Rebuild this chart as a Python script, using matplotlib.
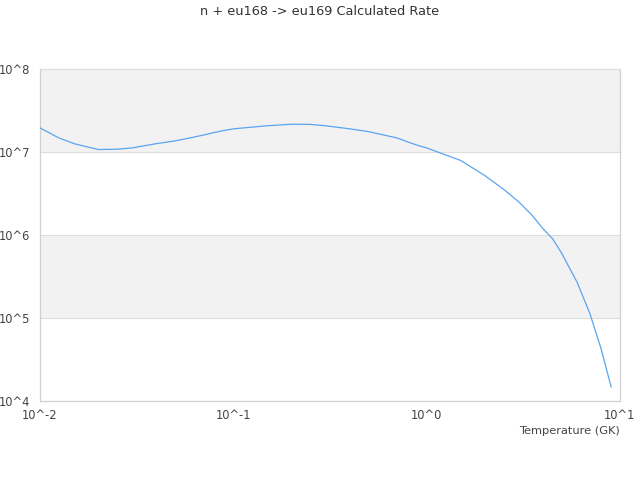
import numpy as np
import matplotlib.pyplot as plt

# Reaction rate for n + eu168 -> eu169
temperature = [0.01, 0.0125, 0.015, 0.02, 0.025, 0.03, 0.04, 0.05, 0.06, 0.07, 0.08, 0.09,
               0.1, 0.15, 0.2, 0.25, 0.3, 0.4, 0.5, 0.6, 0.7, 0.8, 0.9,
               1.0, 1.5, 2.0, 2.5, 3.0, 3.5, 4.0, 4.5, 5.0, 6.0, 7.0, 8.0, 9.0]
rate = [1.95e7, 1.48e7, 1.26e7, 1.07e7, 1.08e7, 1.12e7, 1.26e7, 1.36e7, 1.48e7, 1.6e7, 1.72e7, 1.82e7,
        1.9e7, 2.07e7, 2.16e7, 2.15e7, 2.07e7, 1.9e7, 1.76e7, 1.6e7, 1.48e7, 1.32e7, 1.2e7,
        1.12e7, 7.9e6, 5.2e6, 3.55e6, 2.5e6, 1.74e6, 1.19e6, 8.9e5, 6.0e5, 2.7e5, 1.12e5,
        4.2e4, 1.48e4]

x_ticks = [0.01, 0.1, 1, 10]
x_labels = ['10^-2', '10^-1', '10^0', '10^1']
y_ticks = [1e4, 1e5, 1e6, 1e7, 1e8]
y_labels = ['10^4', '10^5', '10^6', '10^7', '10^8']

fig = plt.figure(figsize=(6.4, 4.8), dpi=100)
ax = fig.add_axes([0.0625, 0.1646, 0.9062, 0.6917])
ax.set_xscale('log')
ax.set_yscale('log')
ax.set_xlim(0.01, 10)
ax.set_ylim(1e4, 1e8)

# alternating bands
for i in range(len(y_ticks) - 1):
    if i % 2 == 1:
        ax.axhspan(y_ticks[i], y_ticks[i + 1], color='#f2f2f2', zorder=0, lw=0)
for y in y_ticks[1:-1]:
    ax.axhline(y, color='#dddddd', lw=0.8, zorder=1)

ax.plot(temperature, rate, color='#5aa5f0', lw=0.9, zorder=3)

ax.set_xticks(x_ticks)
ax.set_xticklabels(x_labels)
ax.set_yticks(y_ticks)
ax.set_yticklabels(y_labels)
ax.minorticks_off()
ax.tick_params(length=0, labelsize=8.3, labelcolor='#444444')
ax.tick_params(axis='x', pad=6)
ax.tick_params(axis='y', pad=7)
for s in ax.spines.values():
    s.set_color('#d0d0d0')
    s.set_linewidth(0.9)
ax.spines['top'].set_color('#dddddd')

ax.set_xlabel('Temperature (GK)', fontsize=8.2, color='#444444', loc='right', labelpad=3)
fig.suptitle('n + eu168 -> eu169 Calculated Rate', fontsize=9.3, color='#333333', y=0.99)

fig.savefig('out.png', dpi=100)
